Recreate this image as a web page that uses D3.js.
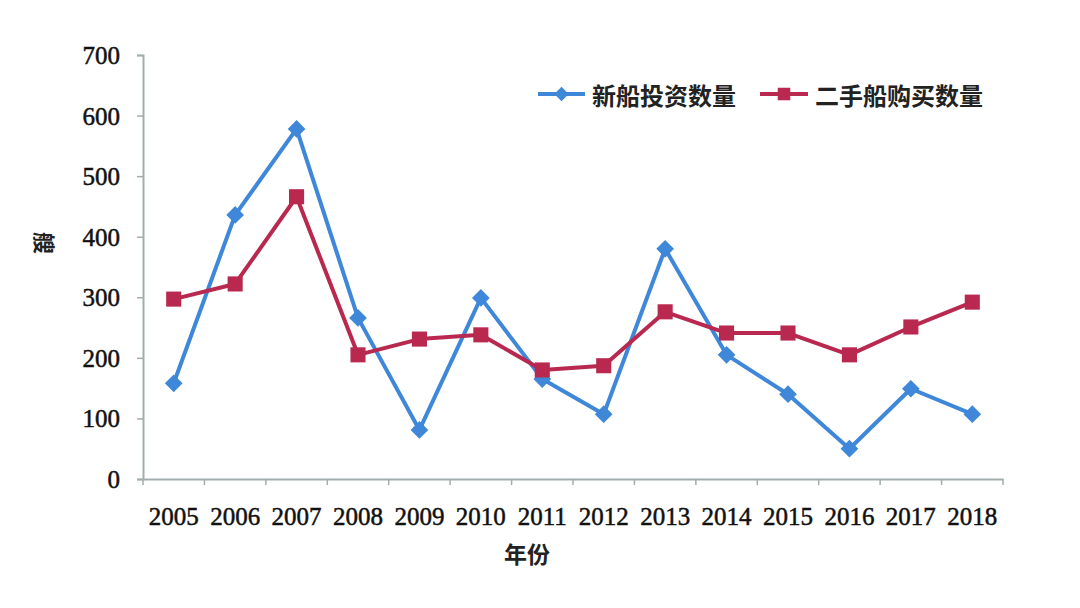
<!DOCTYPE html>
<html><head><meta charset="utf-8">
<script src="https://cdn.jsdelivr.net/npm/d3@7"></script>
<style>
body{margin:0;background:#fff;}
svg{display:block;}
</style></head>
<body>
<svg id="chart" width="1080" height="608"></svg>
<script>
const years = ["2005","2006","2007","2008","2009","2010","2011","2012","2013","2014","2015","2016","2017","2018"];
const newShips = [158,436,578,266,81,299,165,107,380,205,140,50,149,107];
const usedShips = [297,322,466,205,231,238,180,187,276,241,241,205,251,292];
const yTicks = [0,100,200,300,400,500,600,700];
const seriesNames = ["新船投资数量","二手船购买数量"];
const colors = ["#3f87d8","#b8284f"];

const svg = d3.select("#chart");
const x = d3.scaleBand().domain(years).range([143,1003]);
const y = d3.scaleLinear().domain([0,700]).range([479,55]);
const axisColor = "#a3adad";
const numFont = "'Liberation Serif', 'Times New Roman', serif";
const cjkFont = "'Noto Sans CJK SC', sans-serif";

// y axis
const ya = svg.append("g").attr("transform","translate(143,0)")
  .call(d3.axisLeft(y).tickValues(yTicks).tickSize(6).tickPadding(17));
ya.select(".domain").attr("stroke",axisColor).attr("stroke-width",2);
ya.selectAll(".tick line").attr("stroke",axisColor).attr("stroke-width",1.5);
ya.selectAll(".tick text").attr("fill","#111").attr("stroke","#111").attr("stroke-width",0.5)
  .style("font-family",numFont).style("font-size","25px").attr("dy","0.34em");

// x axis
const xa = svg.append("g").attr("transform","translate(0,479)")
  .call(d3.axisBottom(x).tickSize(0).tickPadding(28));
xa.select(".domain").attr("stroke",axisColor).attr("stroke-width",2);
xa.selectAll(".tick text").attr("fill","#111").attr("stroke","#111").attr("stroke-width",0.5)
  .style("font-family",numFont).style("font-size","25px");
// boundary ticks between bands
const bounds = years.map(d=>x(d)).concat([x.range()[1]]);
xa.selectAll(".bt").data(bounds).enter().append("line").attr("class","bt")
  .attr("x1",d=>d).attr("x2",d=>d).attr("y1",0).attr("y2",6)
  .attr("stroke",axisColor).attr("stroke-width",1.5);

// axis titles
svg.append("text").attr("transform","translate(46,243) rotate(90)")
  .attr("text-anchor","middle").attr("dominant-baseline","central")
  .style("font-family",cjkFont).style("font-size","22px").style("font-weight","600").attr("fill","#222").text("艘");
svg.append("text").attr("x",527).attr("y",563).attr("text-anchor","middle")
  .style("font-family",cjkFont).style("font-size","23px").style("font-weight","600").attr("fill","#222").text("年份");

const cx = d => x(d) + x.bandwidth()/2;
const datasets = [newShips, usedShips];
datasets.forEach((vals,i)=>{
  const pts = years.map((yr,j)=>[cx(yr), y(vals[j])]);
  svg.append("path").attr("d",d3.line()(pts)).attr("fill","none")
    .attr("stroke",colors[i]).attr("stroke-width",4).attr("stroke-linejoin","round");
  const sym = i===0 ? d3.symbol().type(d3.symbolDiamond2).size(200) : d3.symbol().type(d3.symbolSquare2).size(290);
  svg.selectAll(".m"+i).data(pts).enter().append("path").attr("class","m"+i)
    .attr("transform",d=>`translate(${d[0]},${d[1]})`).attr("d",sym).attr("fill",colors[i]);
});

// legend
const leg = [{x1:538,x2:585,tx:592},{x1:760,x2:808,tx:815}];
leg.forEach((l,i)=>{
  const g = svg.append("g");
  g.append("line").attr("x1",l.x1).attr("x2",l.x2).attr("y1",94).attr("y2",94).attr("stroke",colors[i]).attr("stroke-width",4);
  const sym = i===0 ? d3.symbol().type(d3.symbolDiamond2).size(130) : d3.symbol().type(d3.symbolSquare2).size(200);
  g.append("path").attr("transform",`translate(${(l.x1+l.x2)/2},94)`).attr("d",sym).attr("fill",colors[i]);
  g.append("text").attr("x",l.tx).attr("y",94).attr("dominant-baseline","central")
    .style("font-family",cjkFont).style("font-size","24px").style("font-weight","600").attr("fill","#222").text(seriesNames[i]);
});
</script>
</body></html>
